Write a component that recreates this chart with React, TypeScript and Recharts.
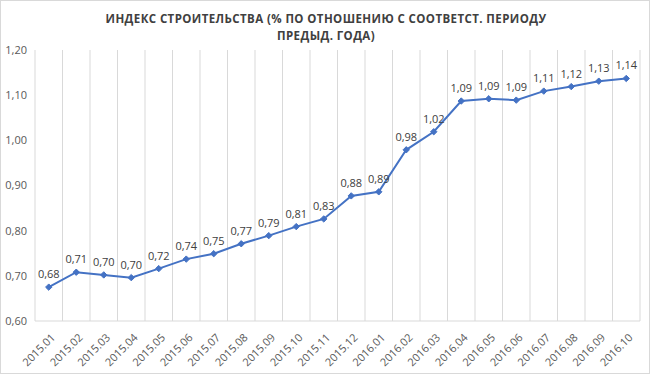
import { LineChart, Line, XAxis, YAxis, CartesianGrid, LabelList } from 'recharts'

const months = [
  '2015.01', '2015.02', '2015.03', '2015.04', '2015.05', '2015.06', '2015.07', '2015.08',
  '2015.09', '2015.10', '2015.11', '2015.12', '2016.01', '2016.02', '2016.03', '2016.04',
  '2016.05', '2016.06', '2016.07', '2016.08', '2016.09', '2016.10',
]
const index = [
  0.675, 0.708, 0.702, 0.696, 0.716, 0.737, 0.749, 0.771, 0.789, 0.809, 0.826, 0.877,
  0.886, 0.979, 1.019, 1.087, 1.092, 1.089, 1.109, 1.119, 1.131, 1.137,
]
const yTicks = [0.6, 0.7, 0.8, 0.9, 1.0, 1.1, 1.2]
const titleLines = ['ИНДЕКС СТРОИТЕЛЬСТВА (% ПО ОТНОШЕНИЮ С СООТВЕТСТ. ПЕРИОДУ', 'ПРЕДЫД. ГОДА)']

const data = months.map((m, i) => ({ m, v: index[i] }))

const fmt = (v: number) => v.toFixed(2).replace('.', ',')
const font = '"Open Sans", "Liberation Sans", sans-serif'

function Diamond(props: any) {
  const { cx, cy } = props
  if (cx == null || cy == null) return null
  const r = 3.2
  return (
    <path
      d={`M${cx},${cy - r}L${cx + r},${cy}L${cx},${cy + r}L${cx - r},${cy}Z`}
      fill="#4472c4"
      stroke="#4472c4"
    />
  )
}

function MonthTick(props: any) {
  const { x, y, payload } = props
  return (
    <g transform={`translate(${x + 4},${y + 6})`}>
      <text
        transform="rotate(-45)"
        textAnchor="end"
        dominantBaseline="central"
        fontSize={11}
        fill="#595959"
        fontFamily={font}
      >
        {payload.value}
      </text>
    </g>
  )
}

export default function App() {
  return (
    <div
      style={{
        position: 'absolute',
        left: 0,
        top: 0,
        width: 648,
        height: 372,
        border: '1px solid #d9d9d9',
        background: '#fff',
        fontFamily: font,
      }}
    >
      <div
        style={{
          position: 'absolute',
          top: 9,
          left: 0,
          width: 650,
          textAlign: 'center',
          fontSize: 11.5,
          fontWeight: 'bold',
          letterSpacing: 0.4,
          lineHeight: '17px',
          color: '#404040',
        }}
      >
        {titleLines.map((t) => (
          <div key={t}>{t}</div>
        ))}
      </div>
      <LineChart
        width={648}
        height={372}
        data={data}
        margin={{ top: 49, right: 9, left: 0, bottom: 0 }}
      >
        <CartesianGrid
          horizontal={false}
          stroke="#d9d9d9"
          verticalCoordinatesGenerator={({ offset }: any) =>
            Array.from({ length: months.length + 1 }, (_, i) => offset.left + (i * offset.width) / months.length)
          }
        />
        <XAxis
          dataKey="m"
          scale="band"
          interval={0}
          height={52}
          tickLine={false}
          axisLine={{ stroke: '#d9d9d9' }}
          tick={<MonthTick />}
        />
        <YAxis
          domain={[0.6, 1.2]}
          ticks={yTicks}
          tickFormatter={fmt}
          width={34}
          axisLine={false}
          tickLine={false}
          tick={{ fill: '#595959', fontSize: 11, fontFamily: font }}
        />
        <Line
          type="linear"
          dataKey="v"
          stroke="#4472c4"
          strokeWidth={2}
          dot={<Diamond />}
          activeDot={false}
          isAnimationActive={false}
        >
          <LabelList
            dataKey="v"
            position="top"
            offset={9}
            formatter={(v: any) => fmt(Number(v))}
            style={{ fill: '#404040', fontSize: 11, fontFamily: font }}
          />
        </Line>
      </LineChart>
    </div>
  )
}
